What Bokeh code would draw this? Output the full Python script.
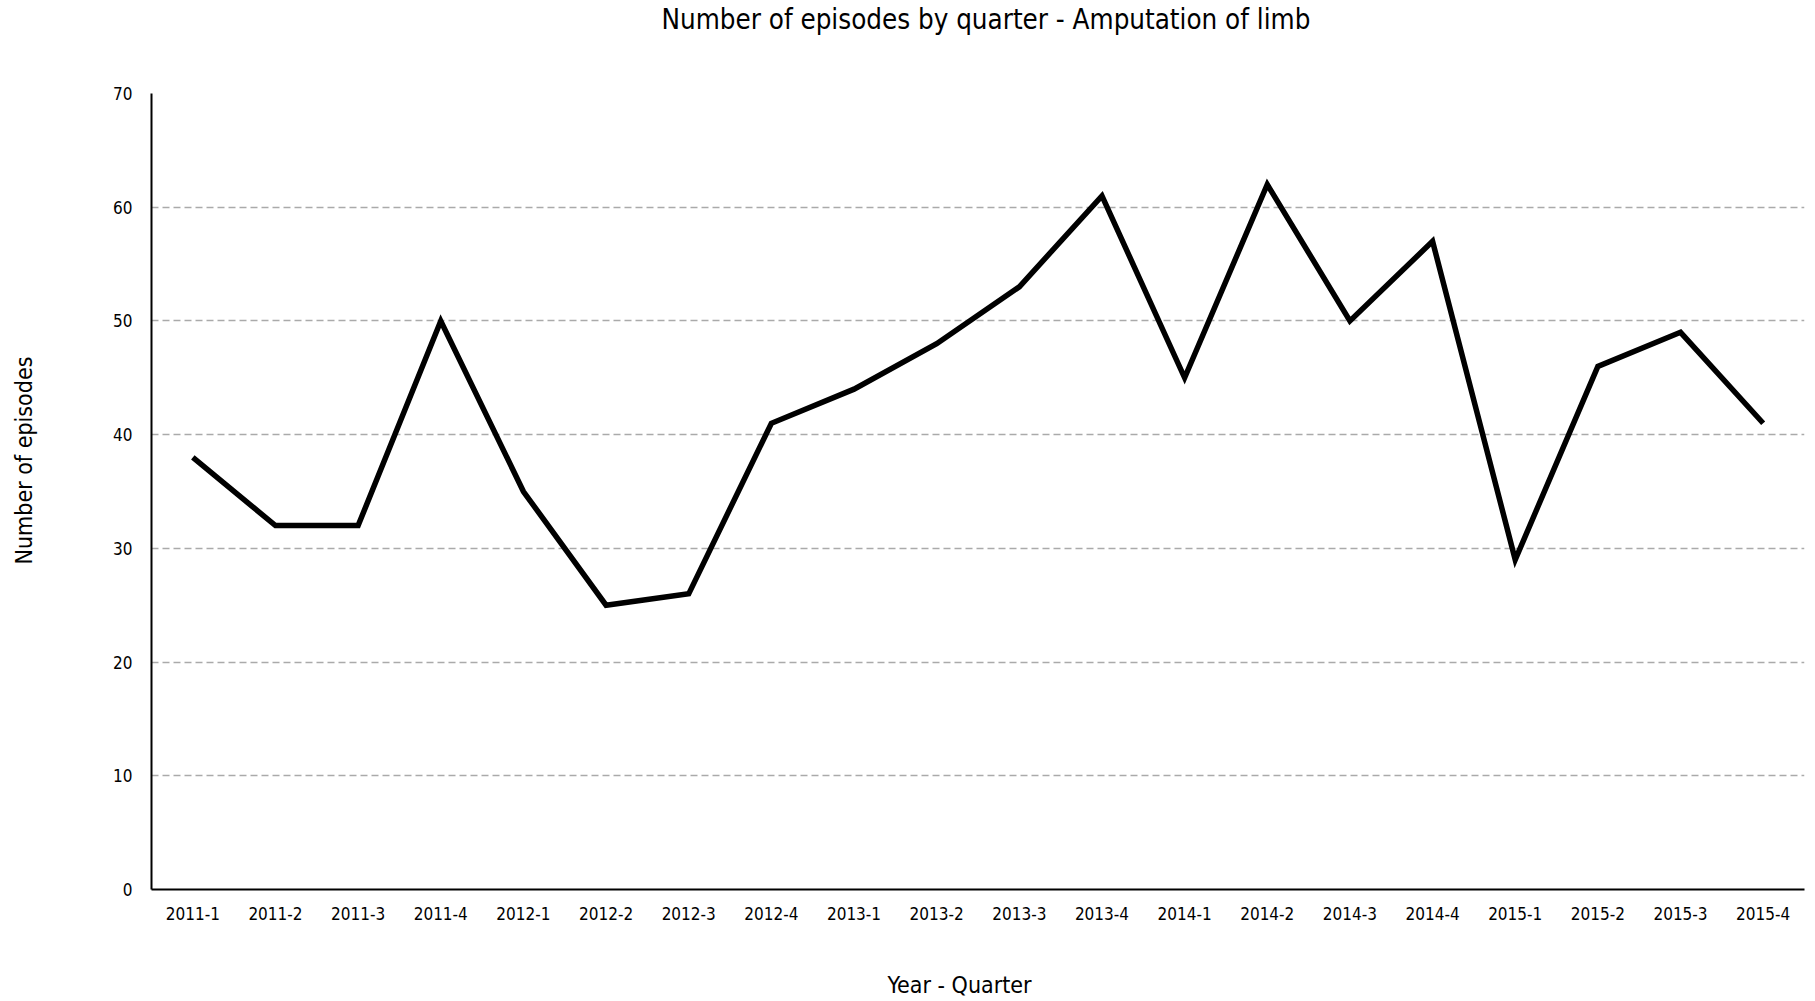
from bokeh.plotting import figure
from bokeh.models import FactorRange, Range1d, FixedTicker, Title
from bokeh.embed import file_html
from bokeh.resources import INLINE

quarters = ["2011-1", "2011-2", "2011-3", "2011-4",
            "2012-1", "2012-2", "2012-3", "2012-4",
            "2013-1", "2013-2", "2013-3", "2013-4",
            "2014-1", "2014-2", "2014-3", "2014-4",
            "2015-1", "2015-2", "2015-3", "2015-4"]
episodes = [38, 32, 32, 50, 35, 25, 26, 41, 44, 48, 53, 61, 45, 62, 50, 57, 29, 46, 49, 41]
y_ticks = [0, 10, 20, 30, 40, 50, 60, 70]

FONT = "'Liberation Sans Narrow', 'DejaVu Sans Condensed', 'Liberation Sans', sans-serif"
W, H = 1812, 1000

p = figure(x_range=FactorRange(*quarters, range_padding=0),
           y_range=Range1d(0, 70),
           width=W, height=H,
           output_backend="svg", toolbar_location=None,
           min_border_left=151, min_border_right=8,
           min_border_top=93, min_border_bottom=111)

p.line(quarters, episodes, line_color="black", line_width=5.5, line_join="miter")

p.outline_line_color = None

p.xgrid.grid_line_color = None
p.ygrid.grid_line_color = "#aaaaaa"
p.ygrid.grid_line_dash = "7 4"
p.ygrid.grid_line_width = 1.3
p.ygrid.ticker = FixedTicker(ticks=[10, 20, 30, 40, 50, 60, 70])

p.yaxis.ticker = FixedTicker(ticks=y_ticks)
for ax in (p.xaxis[0], p.yaxis[0]):
    ax.axis_line_color = "black"
    ax.axis_line_width = 2
    ax.major_tick_line_color = None
    ax.minor_tick_line_color = None
    ax.major_tick_out = 0
    ax.major_tick_in = 0
    ax.major_label_text_font = FONT
    ax.major_label_text_font_size = "17px"
    ax.major_label_text_color = "black"

p.xaxis.major_label_standoff = 17
p.yaxis.major_label_standoff = 19


def spacer(px):
    return Title(text=" ", text_font_size="1px", standoff=px)


def label(text, size, align="center", offset=0):
    return Title(text=text, text_font=FONT, text_font_size=size, text_font_style="normal",
                 text_color="black", align=align, offset=offset, standoff=0,
                 vertical_align="middle")


# title (above)
p.add_layout(spacer(55), "above")
p.add_layout(label("Number of episodes by quarter - Amputation of limb", "27.5px",
                   align="left", offset=510), "above")
# x axis label (below)
p.add_layout(spacer(45), "below")
p.add_layout(label("Year - Quarter", "23px", align="left", offset=736), "below")
# y axis label (left)
p.add_layout(spacer(70), "left")
p.add_layout(label("Number of episodes", "23px", align="left", offset=325), "left")

open("out.html", "w").write(file_html(p, INLINE))
